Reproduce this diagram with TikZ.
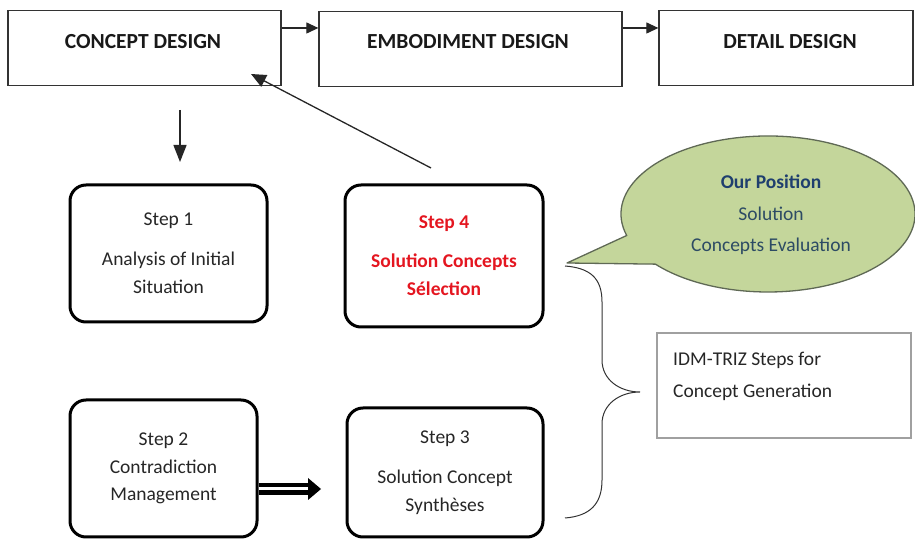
\documentclass[tikz,border=0pt]{standalone}
\usepackage{fontspec}
\setmainfont{Carlito}
\usetikzlibrary{arrows.meta,calc}
\definecolor{bubblefill}{RGB}{196,214,155}
\definecolor{bubbleline}{RGB}{95,105,85}
\definecolor{posblue}{RGB}{31,63,110}
\definecolor{soltext}{RGB}{45,75,100}
\definecolor{stepred}{RGB}{228,22,32}
\definecolor{boxgray}{RGB}{160,160,160}
\begin{document}
\begin{tikzpicture}[x=1pt,y=1pt,
  topbox/.style={draw=black!80, line width=1.3pt, minimum height=75pt, inner sep=0pt},
  toptext/.style={font=\fontsize{21.5}{26}\selectfont\bfseries, text=black!90, inner sep=0pt},
  stepbox/.style={draw=black, line width=3pt, rounded corners=16pt, align=center, inner sep=0pt,
    font=\fontsize{19.5}{28}\selectfont, text=black!85},
  thinarrow/.style={line width=1.2pt, draw=black!85, -{Triangle[length=12pt,width=11pt]}},
  bigarrow/.style={line width=1.4pt, draw=black!85, -{Triangle[length=17pt,width=13pt]}},
  bubbletext/.style={align=center, font=\fontsize{19.5}{31.5}\selectfont, text=soltext},
  bracestyle/.style={line width=1pt, draw=black!80}
]
\useasboundingbox (0,0) rectangle (915,540);

% top boxes
\node[topbox, minimum width=273pt] (concept) at (144.5,492) {};
\node[toptext] (conceptL) at (143,498) {CONCEPT DESIGN};
\node[topbox, minimum width=303pt] (embod) at (470.5,491) {};
\node[toptext] (embodL) at (468,498) {EMBODIMENT DESIGN};
\node[topbox, minimum width=254pt] (detail) at (786,492) {};
\node[toptext] (detailL) at (790,498) {DETAIL DESIGN};

\draw[thinarrow] ([yshift=20pt]concept.east) -- ([yshift=21pt]embod.west);
\draw[thinarrow] ([yshift=21pt]embod.east) -- ([yshift=20pt]detail.west);

% step boxes
\node[stepbox, minimum width=197pt, minimum height=137pt] (s1) at (168.5,286.5)
  {Step 1\\[12pt]Analysis of Initial\\Situation};
\node[stepbox, minimum width=198pt, minimum height=142pt, text=stepred,
  font=\fontsize{19.5}{28}\selectfont\bfseries] (s4) at (444,284)
  {Step 4\\[11pt]Solution Concepts\\Sélection};
\node[stepbox, minimum width=187pt, minimum height=137pt, font=\fontsize{19.5}{27.5}\selectfont] (s2) at (163.5,71.5)
  {Step 2\\Contradiction\\Management};
\node[stepbox, minimum width=196pt, minimum height=129pt] (s3) at (445,67.5)
  {Step 3\\[12pt]Solution Concept\\Synthèses};

% down arrow and feedback arrow
\coordinate (downA) at (180,430);
\coordinate (downB) at (180,378);
\draw[bigarrow] (downA) -- (downB);
\coordinate (fbA) at (431,372);
\coordinate (fbB) at (251,466);
\draw[line width=1.3pt, draw=black!85, -{Triangle[length=15pt,width=13pt]}] (fbA) -- (fbB);

% double arrow step 2 -> step 3
\coordinate (dbase) at (308,51);
\coordinate (dtip) at (321,51);
\draw[line width=4.5pt, double=white, double distance=3pt] ([yshift=-20.5pt]s2.east) -- (dbase);
\fill[black] ($(dbase)+(0,11)$) -- (dtip) -- ($(dbase)+(0,-11)$) -- cycle;

% speech bubble
\coordinate (tail) at (567,277);
\filldraw[fill=bubblefill, draw=bubbleline, line width=1.3pt, line join=round]
  (tail) -- ($(768,326)+(196:147 and 78)$)
  arc[start angle=196, end angle=-140, x radius=147, y radius=78] -- cycle;
\node[bubbletext] (bub) at (771,325)
  {\textbf{\color{posblue}Our Position}\\Solution\\Concepts Evaluation};

% brace
\draw[bracestyle] (565,274) .. controls (590,272) and (602,262) .. (602,238)
  -- (602,180) .. controls (602,160) and (620,148) .. (640,148)
  .. controls (620,148) and (602,136) .. (602,116)
  -- (602,60) .. controls (602,36) and (590,24) .. (565,22);

% IDM-TRIZ box
\node[draw=boxgray, line width=2.2pt, minimum width=254pt, minimum height=105pt, inner sep=0pt] (idm) at (784,154.5) {};
\node[anchor=west, align=left, inner sep=0pt, font=\fontsize{19.5}{32}\selectfont, text=black!85] (idmL) at (673,164)
  {IDM-TRIZ Steps for\\Concept Generation};
\end{tikzpicture}
\end{document}
